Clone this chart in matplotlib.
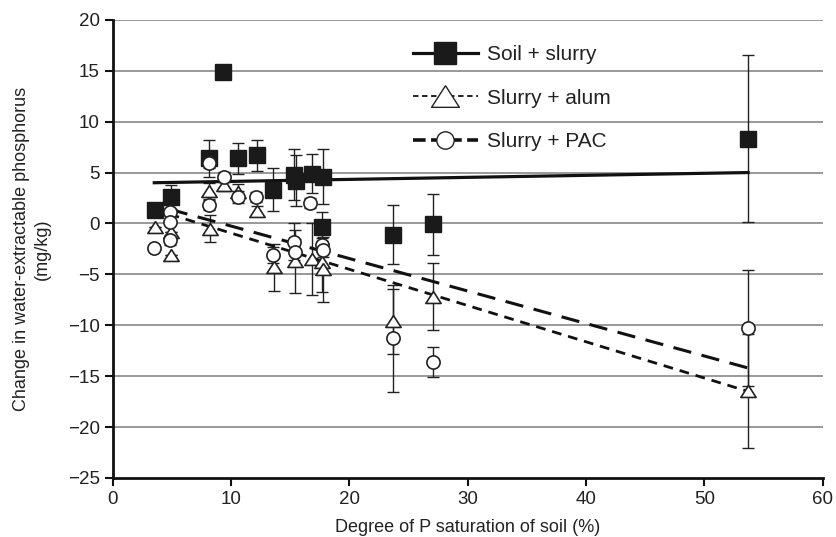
import matplotlib
matplotlib.use("Agg")
import matplotlib.pyplot as plt
from matplotlib.lines import Line2D
import numpy as np

plt.rcParams['font.family'] = ['Liberation Sans', 'DejaVu Sans']

# ---- data ----
slurry_x = [3.6, 4.9, 8.1, 9.3, 10.6, 12.2, 13.5, 15.3, 15.5, 16.8, 17.8, 17.7, 23.7, 27.1, 53.7]
slurry_y = [1.3, 2.6, 6.4, 14.9, 6.4, 6.7, 3.3, 4.8, 4.2, 4.9, 4.6, -0.3, -1.1, -0.1, 8.3]
slurry_err = [0.0, 1.2, 1.8, 0.0, 1.5, 1.5, 2.1, 2.5, 2.5, 1.9, 2.7, 1.4, 2.9, 3.0, 8.2]

alum_x = [3.6, 4.9, 4.9, 8.1, 8.2, 9.4, 10.6, 12.2, 13.6, 15.4, 16.8, 17.7, 17.8, 23.7, 27.1, 53.7]
alum_y = [-0.3, -0.8, -3.1, 3.2, -0.5, 3.8, 3.1, 1.2, -4.3, -3.7, -3.5, -3.8, -4.5, -9.6, -7.2, -16.5]
alum_err = [0.0, 0.0, 0.0, 0.8, 1.3, 0.6, 0.8, 0.5, 2.3, 3.1, 3.5, 2.9, 3.2, 3.2, 3.3, 5.6]

pac_x = [3.5, 4.8, 4.8, 4.8, 8.1, 8.1, 9.4, 10.6, 12.1, 13.5, 15.3, 15.4, 16.7, 17.7, 17.8, 23.7, 27.1, 53.7]
pac_y = [-2.4, 1.1, 0.1, -1.6, 5.9, 1.8, 4.6, 2.6, 2.6, -3.1, -1.8, -2.8, 2.0, -2.1, -2.6, -11.3, -13.6, -10.3]
pac_err = [0.0, 0.0, 0.0, 0.5, 0.5, 0.5, 0.5, 0.6, 0.5, 0.8, 1.8, 1.3, 0.5, 0.7, 0.7, 5.3, 1.5, 5.7]

# regression line endpoints
slurry_fit_x = [3.5, 53.7]
slurry_fit_y = [4.0, 5.0]
alum_fit_x = [4.8, 53.7]
alum_fit_y = [0.9, -16.5]
pac_fit_x = [4.8, 53.7]
pac_fit_y = [1.4, -14.2]

labels = ["Soil + slurry", "Slurry + alum", "Slurry + PAC"]

# ---- figure ----
fig = plt.figure(figsize=(8.36, 5.37), dpi=100)
ax = fig.add_axes([0.135, 0.110, 0.849, 0.853])

txt = '#222222'
ax.set_xlim(0, 60)
ax.set_ylim(-25, 20)
ax.set_xticks(range(0, 61, 10))
ax.set_yticks(range(-25, 21, 5))
ax.set_yticklabels([str(v).replace('-', '\u2212') for v in range(-25, 21, 5)])
for y in range(-20, 21, 5):
    ax.axhline(y, color='#999999', lw=1.4, zorder=0)
for s in ['top', 'right']:
    ax.spines[s].set_visible(False)
for s in ['left', 'bottom']:
    ax.spines[s].set_linewidth(2.0)
    ax.spines[s].set_color('#111111')
ax.tick_params(axis='both', direction='out', length=6, width=1.5, colors='#111111',
               labelsize=13.5, labelcolor=txt)

ax.set_xlabel("Degree of P saturation of soil (%)", fontsize=13, color=txt, labelpad=8)
ax.set_ylabel("Change in water-extractable phosphorus\n(mg/kg)", fontsize=13, color=txt,
              labelpad=12, linespacing=1.3)

ekw = dict(fmt='none', ecolor='#222222', elinewidth=1.0, capsize=4, capthick=1.0)
tri = [(0, 0.78), (-1, -0.78), (1, -0.78), (0, 0.78)]

# regression lines
ax.plot(slurry_fit_x, slurry_fit_y, color='#111111', lw=2.3, zorder=3)
ax.plot(alum_fit_x, alum_fit_y, color='#111111', lw=2.0, dashes=(3.5, 2.5), zorder=3)
ax.plot(pac_fit_x, pac_fit_y, color='#111111', lw=2.2, dashes=(6, 3.5), zorder=3)

# squares
ax.errorbar(slurry_x, slurry_y, yerr=slurry_err, zorder=2, **ekw)
ax.plot(slurry_x, slurry_y, 's', ms=11, mfc='#1a1a1a', mec='#1a1a1a', zorder=4)
# triangles
ax.errorbar(alum_x, alum_y, yerr=alum_err, zorder=2, **ekw)
ax.plot(alum_x, alum_y, marker=tri, ls='none', ms=11, mfc='white', mec='#222222', mew=1.2, zorder=5)
# circles
ax.errorbar(pac_x, pac_y, yerr=pac_err, zorder=2, **ekw)
ax.plot(pac_x, pac_y, 'o', ms=9.5, mfc='white', mec='#222222', mew=1.2, zorder=6)

handles = [
    Line2D([], [], color='#111111', lw=2.3, marker='s', ms=16, mfc='#1a1a1a', mec='#1a1a1a'),
    Line2D([], [], color='#111111', lw=1.3, dashes=(3, 2), marker=tri, ms=20, mfc='white', mec='#222222', mew=1.0),
    Line2D([], [], color='#111111', lw=2.6, dashes=(3.5, 1.5), marker='o', ms=12.5, mfc='white', mec='#222222', mew=1.0),
]
leg = ax.legend(handles, labels, loc='upper left', bbox_to_anchor=(413 / 836, 1 - 45 / 537),
                bbox_transform=fig.transFigure, frameon=False, borderpad=0, borderaxespad=0,
                fontsize=15, labelspacing=1.18, handlelength=3.1, handletextpad=0.45)
for t in leg.get_texts():
    t.set_color(txt)

fig.savefig("out.png", dpi=100)
